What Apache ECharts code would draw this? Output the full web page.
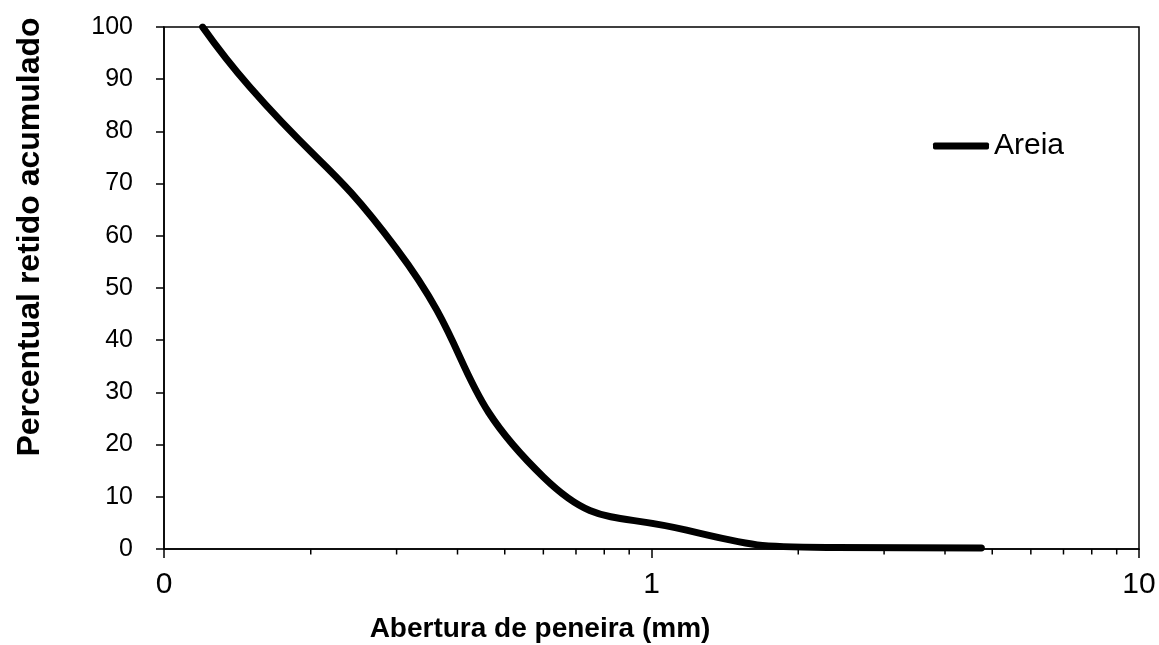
<!DOCTYPE html>
<html>
<head>
<meta charset="utf-8">
<script src="https://cdn.jsdelivr.net/npm/echarts@6/dist/echarts.min.js"></script>
<style>
html,body{margin:0;padding:0;background:#fff;}
#chart{width:1159px;height:645px;}
</style>
</head>
<body>
<div id="chart"></div>
<script>
// Data
var sieveSizes = [0.12, 0.15, 0.3, 0.6, 1.18, 2.36, 4.75];      // mm
var retainedAreia = [100, 88.5, 57.5, 13.8, 3.6, 0.3, 0.2];      // %
var seriesName = 'Areia';
var xTickValues = [0.1, 1, 10];
var xTickLabels = ['0', '1', '10'];
var xMinorTicks = [0.2, 0.3, 0.4, 0.5, 0.6, 0.7, 0.8, 0.9, 2, 3, 4, 5, 6, 7, 8, 9];
var yMin = 0, yMax = 100, yInterval = 10;
var xTitle = 'Abertura de peneira (mm)';
var yTitle = 'Percentual retido acumulado';

var FONT = '"Liberation Sans", Arial, sans-serif';

var lineData = sieveSizes.map(function (d, i) { return [d, retainedAreia[i]]; });
var minorData = xMinorTicks.map(function (v) { return [v, 0]; });

var chart = echarts.init(document.getElementById('chart'));
chart.setOption({
  animation: false,
  backgroundColor: '#fff',
  grid: {
    left: 164, right: 20, top: 27, bottom: 96,
    show: true, borderColor: '#000', borderWidth: 1.5, backgroundColor: 'transparent'
  },
  legend: {
    data: [{ name: seriesName, icon: 'roundRect' }],
    left: 928, top: 126,
    itemWidth: 56, itemHeight: 7,
    itemStyle: { color: '#000' },
    textStyle: { fontFamily: FONT, fontSize: 30, color: '#000' }
  },
  xAxis: {
    type: 'log', logBase: 10, min: 0.1, max: 10,
    axisLine: { show: true, lineStyle: { color: '#000', width: 1.5 } },
    axisTick: { show: true, inside: false, length: 9, lineStyle: { color: '#000', width: 1.5 } },
    splitLine: { show: false },
    axisLabel: {
      margin: 21, fontFamily: FONT, fontSize: 30, color: '#000',
      formatter: function (v) {
        for (var i = 0; i < xTickValues.length; i++) {
          if (Math.abs(Math.log10(v) - Math.log10(xTickValues[i])) < 1e-6) return xTickLabels[i];
        }
        return '';
      }
    }
  },
  yAxis: {
    type: 'value', min: yMin, max: yMax, interval: yInterval,
    axisLine: { show: true, lineStyle: { color: '#000', width: 1.5 } },
    axisTick: { show: true, inside: false, length: 8, lineStyle: { color: '#000', width: 1.5 } },
    splitLine: { show: false },
    axisLabel: { margin: 31, fontFamily: FONT, fontSize: 25, color: '#000' }
  },
  graphic: [
    {
      type: 'text',
      x: 540, y: 629,
      style: {
        text: xTitle, x: 0, y: 0, align: 'center', verticalAlign: 'middle',
        font: 'bold 28px ' + FONT, fill: '#000'
      }
    },
    {
      type: 'text',
      x: 30, y: 237, rotation: Math.PI / 2,
      style: {
        text: yTitle, x: 0, y: 0, align: 'center', verticalAlign: 'middle',
        font: 'bold 32px ' + FONT, fill: '#000'
      }
    }
  ],
  series: [
    {
      name: seriesName,
      type: 'line',
      data: lineData,
      smooth: 0.5,
      symbol: 'none',
      clip: true,
      lineStyle: { color: '#000', width: 7, cap: 'round', join: 'round' },
      itemStyle: { color: '#000' },
      z: 3
    },
    {
      name: 'minorTicks',
      type: 'custom',
      data: minorData,
      silent: true,
      clip: false,
      encode: { x: 0, y: 1 },
      renderItem: function (params, api) {
        var p = api.coord([api.value(0), api.value(1)]);
        return {
          type: 'line',
          shape: { x1: p[0], y1: p[1], x2: p[0], y2: p[1] + 5.5 },
          style: { stroke: '#000', lineWidth: 1.5 }
        };
      },
      z: 2
    }
  ]
});
</script>
</body>
</html>
